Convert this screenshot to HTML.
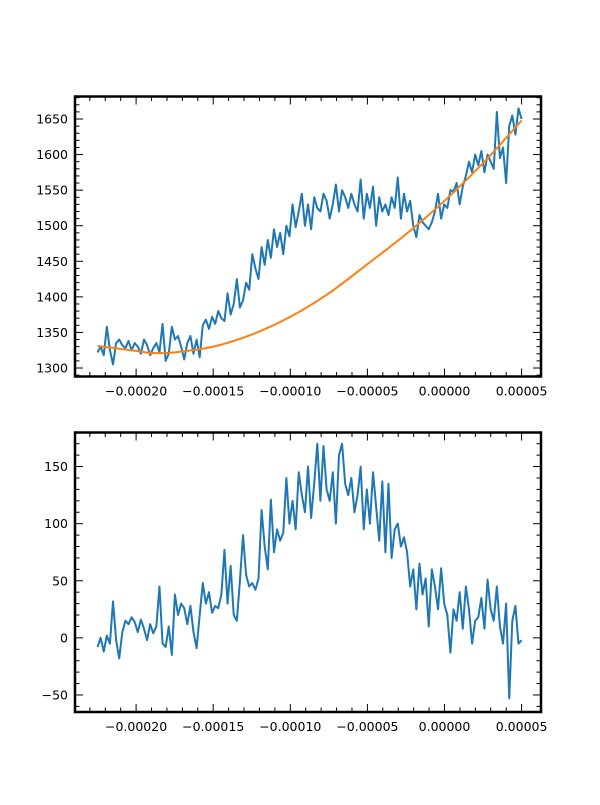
<!DOCTYPE html>
<html><head><meta charset="utf-8"><style>
html,body{margin:0;padding:0;background:#fff;}
svg text{font-family:"DejaVu Sans","Liberation Sans",sans-serif;font-size:12.5px;fill:#000;}
</style></head><body>
<svg id="chart" width="600" height="800" xmlns="http://www.w3.org/2000/svg"></svg>
<script>
// top panel data (blue noisy series), chunked by x-range
const topValues = [
1322,1330,1318,1358,1325,1305,1335,1340,1332,1328,1338,1325,1335,1330,1320,1340,1332,1318,1328,1335,
1322,1362,1310,1320,1358,1340,1345,1330,1312,1335,1345,1320,1340,
1315,1360,1368,1355,1372,1362,1380,1370,1366,1405,
1375,1390,1425,1385,1395,1420,1410,1460,1440,1425,
1470,1445,1480,1455,1495,1470,1490,1460,1500,1485,
1530,1498,1520,1545,1500,1530,1495,1540,1525,1520,
1545,1535,1510,1530,1558,1520,1550,1540,1525,1545,
1530,1520,1565,1510,1545,1525,1555,1500,1540,1520,
1530,1515,1540,1525,1568,1510,1545,1520,1535,1500,
1484,1515,1505,1500,1495,1505,1520,1545,1510,1530,
1525,1550,1548,1560,1530,1555,1570,1590,1575,1600,
1585,1605,1575,1600,1590,1580,1660,1595,1610,1560,
1640,1655,1628,1665,1650];
// fitted curve (orange) samples
const fitX = [-0.000225,-0.0002,-0.00019,-0.000175,-0.00015,-0.000125,-0.0001,-0.000075,-0.00005,-0.000025,0,0.000025,0.00005];
const fitValues = [1331,1324,1321,1322,1330,1347,1372,1405,1446,1488,1535,1588,1648];
// bottom panel data (residual)
const bottomValues = [
-8,0,-12,2,-5,32,-2,-18,5,15,12,18,14,5,16,8,-2,12,4,10,
45,-5,-8,10,-15,38,20,30,26,12,28,5,-9,
20,48,30,40,22,28,26,38,77,30,
63,20,15,50,90,55,45,48,42,52,
112,80,60,121,75,95,85,92,140,100,
120,95,145,125,110,150,105,135,170,120,
168,130,120,145,100,160,170,135,125,140,
110,125,150,95,130,100,145,115,85,137,
75,135,70,95,100,80,88,75,45,60,
25,65,38,52,10,60,45,25,61,30,
20,-13,25,15,40,8,45,25,-5,15,
18,35,8,51,25,15,45,10,-5,30,
-53,15,28,-5,-2];
const xStart = -0.000225, xEnd = 0.00005;
const xTickValues = [-0.0002,-0.00015,-0.0001,-0.00005,0,0.00005];
const xTickLabels = ["\u22120.00020","\u22120.00015","\u22120.00010","\u22120.00005","0.00000","0.00005"];
const topYTicks = [1300,1350,1400,1450,1500,1550,1600,1650];
const bottomYTicks = [-50,0,50,100,150];

const svg = document.getElementById('chart');
const NS = 'http://www.w3.org/2000/svg';
function mk(tag, attrs, parent){const e=document.createElementNS(NS,tag);for(const k in attrs)e.setAttribute(k,attrs[k]);(parent||svg).appendChild(e);return e;}

const L=75, R=541;
function xs(v){return 444.5 + v/0.00005*77.1;}

function smoothPath(p){
  let d='M'+p[0][0].toFixed(2)+','+p[0][1].toFixed(2);
  for(let i=0;i<p.length-1;i++){
    const p0=p[Math.max(0,i-1)],p1=p[i],p2=p[i+1],p3=p[Math.min(p.length-1,i+2)];
    const c1=[p1[0]+(p2[0]-p0[0])/6,p1[1]+(p2[1]-p0[1])/6];
    const c2=[p2[0]-(p3[0]-p1[0])/6,p2[1]-(p3[1]-p1[1])/6];
    d+=' C'+c1[0].toFixed(2)+','+c1[1].toFixed(2)+' '+c2[0].toFixed(2)+','+c2[1].toFixed(2)+' '+p2[0].toFixed(2)+','+p2[1].toFixed(2);
  }
  return d;
}

function panel(name, top, bottom, yTop, yBot, yTicks, series, extra){
  const g = mk('g',{});
  
  
  const ys = v => top + (yTop - v)/(yTop - yBot)*(bottom-top);
  const xt = mk('g',{},g);
  
  
  for(let i=-23;i<=5;i++){
    const v=i*0.00001, x=xs(v);
    if(x<L+1||x>R-1) continue;
    const major = (i%5===0);
    const len = major?8:4.5;
    mk('line',{x1:x,x2:x,y1:bottom,y2:bottom-len,stroke:'#000','stroke-width':1},xt);
    mk('line',{x1:x,x2:x,y1:top,y2:top+len,stroke:'#000','stroke-width':1},xt);
  }
  xTickValues.forEach((v,i)=>{
    const t=mk('text',{x:xs(v),y:bottom+19,'text-anchor':'middle'},xt);
    
    
    t.textContent=xTickLabels[i];
  });
  const yt = mk('g',{},g);
  
  
  const start=Math.ceil(yBot/10)*10;
  for(let v=start; v<=yTop; v+=10){
    const y=ys(v);
    if(y<top+1||y>bottom-1) continue;
    const major=(v%50===0);
    const len=major?8:4.5;
    mk('line',{x1:L,x2:L+len,y1:y,y2:y,stroke:'#000','stroke-width':1},yt);
    mk('line',{x1:R,x2:R-len,y1:y,y2:y,stroke:'#000','stroke-width':1},yt);
  }
  yTicks.forEach(v=>{
    const t=mk('text',{x:L-7,y:ys(v)+4.5,'text-anchor':'end'},yt);
    
    
    t.textContent=(v<0?'\u2212':'')+Math.abs(v);
  });
  const n=series.length;
  const pts=series.map((v,i)=>xs(xStart+(xEnd-xStart)*i/(n-1)).toFixed(2)+','+ys(v).toFixed(2)).join(' ');
  const line=mk('polyline',{points:pts,fill:'none',stroke:'#1f77b4','stroke-width':2,'stroke-linejoin':'round'},g);
  
  
  if(extra){
    const p2=extra.x.map((xv,i)=>[xs(xv),ys(extra.y[i])]);
    const f=mk('path',{d:smoothPath(p2),fill:'none',stroke:'#ff7f0e','stroke-width':2},g);
    
    
  }
  const frame=mk('rect',{x:L,y:top,width:R-L,height:bottom-top,fill:'none',stroke:'#000','stroke-width':2.5},g);
  
  
}
panel('top-panel', 96.5, 376.5, 1650+22.5/0.711, 1300-8.5/0.711, topYTicks, topValues, {x:fitX,y:fitValues});
panel('bottom-panel', 432.5, 712, 150+34/1.14, -50-17/1.14, bottomYTicks, bottomValues, null);
</script>
</body></html>
